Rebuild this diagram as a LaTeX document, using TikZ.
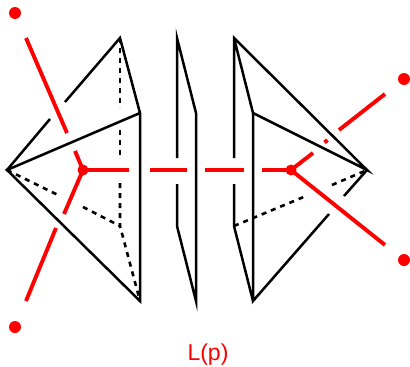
\documentclass[tikz,border=0pt]{standalone}
\usepackage{fontspec}
\setmainfont{Liberation Sans}
\tikzset{
  edgeline/.style={draw=black,line width=2.5pt,line join=miter},
  hidden/.style={draw=black,line width=2.6pt,dash pattern=on 5pt off 5pt},
  strand/.style={draw=red,line width=3.9pt},
  bigdot/.style={circle,fill=red,inner sep=0pt,minimum size=12pt},
  joint/.style={circle,fill=red,inner sep=0pt,minimum size=11pt},
}
\begin{document}
\begin{tikzpicture}[x=1pt,y=-1pt]
\useasboundingbox (0,0) rectangle (410,367);
% left polyhedron
\coordinate (A) at (7,170);
\coordinate (B) at (120,38);
\coordinate (C) at (140,113);
\coordinate (D) at (140,301);
\coordinate (E) at (120,226);
\coordinate (Ag) at (50,119);
\coordinate (Bg) at (65,102);
\coordinate (Ed1) at (120,108);
\coordinate (Ed2) at (120,130);
\coordinate (Ed3) at (120,158);
\coordinate (Ed4) at (120,183);
\coordinate (Ad1) at (60,196);
\coordinate (Ad2) at (83,207);
\draw[edgeline] (A) -- (Ag);
\draw[edgeline] (Bg) -- (B) -- (C) -- (D) -- (A) -- (C);
\draw[hidden] (B) -- (Ed1);
\draw[hidden] (Ed2) -- (Ed3);
\draw[hidden] (Ed4) -- (E) -- (D);
\draw[hidden] (A) -- (Ad1);
\draw[hidden] (Ad2) -- (E);
% middle sheet
\coordinate (M1) at (177,158);
\coordinate (M2) at (177,38);
\coordinate (M3) at (196,113);
\coordinate (M4) at (196,301);
\coordinate (M5) at (177,226);
\coordinate (M6) at (177,184);
\draw[edgeline] (M1) -- (M2) -- (M3) -- (M4) -- (M5) -- (M6);
% right polyhedron
\coordinate (G) at (234,38);
\coordinate (H) at (253,113);
\coordinate (I) at (253,301);
\coordinate (J) at (234,226);
\coordinate (K) at (367,170);
\coordinate (G1) at (234,158);
\coordinate (G2) at (234,184);
\coordinate (Ig) at (329,214);
\coordinate (Kg) at (344,196);
\coordinate (Jd1) at (306,196);
\coordinate (Jd2) at (332,185);
\draw[edgeline] (G1) -- (G) -- (K) -- (H) -- (G);
\draw[edgeline] (H) -- (I) -- (Ig);
\draw[edgeline] (Kg) -- (K);
\draw[edgeline] (G2) -- (J) -- (I);
\draw[hidden] (J) -- (Jd1);
\draw[hidden] (Jd2) -- (K);
% red
\node[joint] (nL) at (83,170) {};
\node[joint] (nR) at (291,170) {};
\node[bigdot] (p1) at (15,13) {};
\node[bigdot] (p2) at (15,327) {};
\node[bigdot] (p3) at (404,79) {};
\node[bigdot] (p4) at (404,260) {};
\coordinate (a1) at (26,38);
\coordinate (a2) at (67,133);
\coordinate (a3) at (75,151);
\coordinate (b1) at (64,214);
\coordinate (b2) at (56,228);
\coordinate (b3) at (26,301);
\coordinate (c1) at (129,170);
\coordinate (c2) at (150,170);
\coordinate (c3) at (187,170);
\coordinate (c4) at (205,170);
\coordinate (c5) at (244,170);
\coordinate (c6) at (262,170);
\coordinate (d1) at (313,153);
\coordinate (d2) at (324.5,142.5);
\coordinate (d3) at (327.5,140);
\coordinate (d4) at (339,130);
\coordinate (d5) at (385,94);
\coordinate (e1) at (385,245);
\draw[strand] (a1) -- (a2);
\draw[strand] (a3) -- (nL.center);
\draw[strand] (nL.center) -- (b1);
\draw[strand] (b2) -- (b3);
\draw[strand] (nL.center) -- (c1);
\draw[strand] (c2) -- (c3);
\draw[strand] (c4) -- (c5);
\draw[strand] (c6) -- (nR.center);
\draw[strand] (nR.center) -- (d1);
\draw[strand] (d2) -- (d3);
\draw[strand] (d4) -- (d5);
\draw[strand] (nR.center) -- (e1);
\node[text=red,font=\fontsize{23}{25}\selectfont,inner sep=0pt] (lab) at (208,355) {L(p)};
\end{tikzpicture}
\end{document}
